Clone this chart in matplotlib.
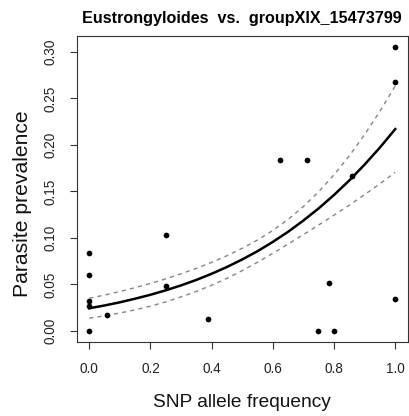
import matplotlib
matplotlib.use("Agg")
import matplotlib.pyplot as plt

# observed points
snp_freq = [1.0, 1.0, 0.624, 0.713, 0.858, 0.25, 0.0, 0.0, 0.25, 0.785,
            1.0, 0.0, 0.0, 0.057, 0.389, 0.0, 0.749, 0.8]
prevalence = [0.305, 0.268, 0.184, 0.184, 0.167, 0.103, 0.0835, 0.0606, 0.048, 0.0513,
              0.0344, 0.0323, 0.0269, 0.0168, 0.0125, 0.0, 0.0, 0.0]

# fitted curve and 95% band
curve_x = [0.0, 0.05, 0.1, 0.15, 0.2, 0.25, 0.3, 0.35, 0.4, 0.45, 0.5,
           0.55, 0.6, 0.65, 0.7, 0.75, 0.8, 0.85, 0.9, 0.95, 1.0]
curve_fit = [0.0244, 0.0274, 0.0308, 0.0347, 0.0389, 0.0437, 0.0490, 0.0549, 0.0615, 0.0688, 0.0769,
             0.0858, 0.0958, 0.1067, 0.1188, 0.1319, 0.1463, 0.1619, 0.1790, 0.1973, 0.2171]
curve_upper = [0.0351, 0.0386, 0.0424, 0.0466, 0.0511, 0.0560, 0.0615, 0.0673, 0.0738, 0.0809, 0.0889,
               0.0978, 0.1081, 0.1200, 0.1339, 0.1498, 0.1680, 0.1884, 0.2113, 0.2363, 0.2636]
curve_lower = [0.0137, 0.0163, 0.0193, 0.0227, 0.0267, 0.0313, 0.0366, 0.0425, 0.0492, 0.0566, 0.0649,
               0.0739, 0.0835, 0.0935, 0.1037, 0.1140, 0.1246, 0.1354, 0.1467, 0.1583, 0.1706]

x_ticks = [0.0, 0.2, 0.4, 0.6, 0.8, 1.0]
y_ticks = [0.00, 0.05, 0.10, 0.15, 0.20, 0.25, 0.30]

plt.rcParams["font.family"] = ["Liberation Sans", "DejaVu Sans"]

fig = plt.figure(figsize=(4.09, 4.16), dpi=100)
ax = fig.add_axes([77 / 409, 73.7 / 416, 330.5 / 409, 306.3 / 416])

ax.plot(curve_x, curve_upper, color="#858585", lw=1.0, dashes=(3, 3))
ax.plot(curve_x, curve_lower, color="#858585", lw=1.0, dashes=(3, 3))
ax.plot(curve_x, curve_fit, color="black", lw=1.8)
ax.scatter(snp_freq, prevalence, s=17, color="black", zorder=3, linewidths=0)

ax.set_xlim(-0.04, 1.04)
ax.set_ylim(-0.0122, 0.3172)
ax.set_xticks(x_ticks)
ax.set_xticklabels([f"{t:.1f}" for t in x_ticks])
ax.set_yticks(y_ticks)
ax.set_yticklabels([f"{t:.2f}" for t in y_ticks], rotation=90, va="center")
ax.tick_params(length=5, width=0.8, color="#333333", labelsize=9.8, labelcolor="#222222", pad=9)
for s in ax.spines.values():
    s.set_linewidth(0.8)
    s.set_color("#333333")

ax.set_xlabel("SNP allele frequency", fontsize=13.8, color="#111111", labelpad=13)
ax.set_ylabel("Parasite prevalence", fontsize=15.2, color="#111111", va="center")
ax.yaxis.set_label_coords(-0.166, 0.453)
ax.set_title("Eustrongyloides  vs.  groupXIX_15473799", fontsize=11.6, fontweight="bold", pad=9)

fig.savefig("out.png", dpi=100)
